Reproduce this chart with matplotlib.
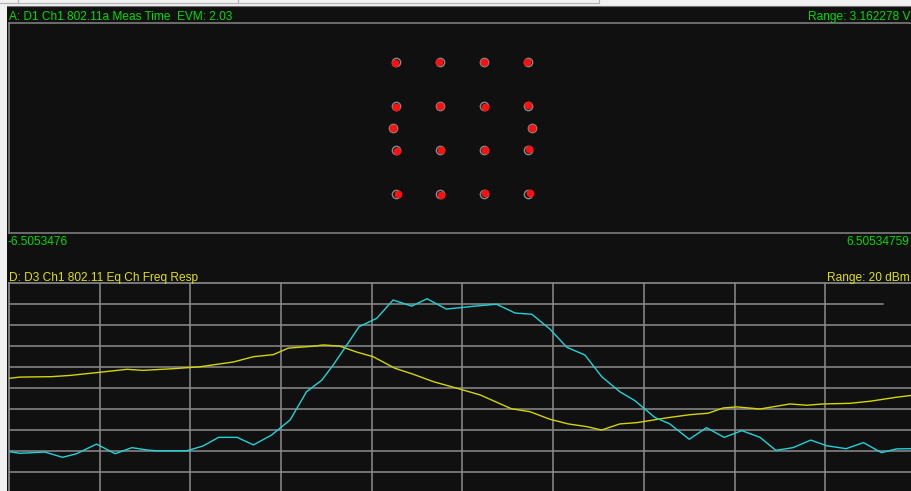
import matplotlib
matplotlib.use('Agg')
import matplotlib.pyplot as plt
from matplotlib.patches import Rectangle
from matplotlib.lines import Line2D

W, H = 912, 491

# --- constellation (normalized 16QAM, pilots at +/-1) ---
ideal_i = [-0.949, -0.316, 0.316, 0.949,
           -0.949, -0.316, 0.316, 0.949,
           -1.0, 1.0,
           -0.949, -0.316, 0.316, 0.949,
           -0.949, -0.316, 0.316, 0.949]
ideal_q = [0.949, 0.949, 0.949, 0.949,
           0.316, 0.316, 0.316, 0.316,
           0.0, 0.0,
           -0.316, -0.316, -0.316, -0.316,
           -0.949, -0.949, -0.949, -0.949]
meas_i = [-0.969, -0.341, 0.306, 0.934,
          -0.949, -0.326, 0.321, 0.949,
          -0.997, 1.003,
          -0.939, -0.306, 0.326, 0.954,
          -0.929, -0.301, 0.331, 0.969]
meas_q = [0.929, 0.949, 0.949, 0.949,
          0.301, 0.316, 0.306, 0.331,
          -0.003, 0.0,
          -0.331, -0.316, -0.311, -0.301,
          -0.949, -0.959, -0.939, -0.929]
x_range = (-6.5053476, 6.50534759)
evm = 2.03

# --- equalizer channel frequency response (MHz, dBm) ---
freq_cyan = [-10.0, -9.76, -9.21, -8.82, -8.51, -8.07, -7.66, -7.29, -6.96, -6.74,
             -6.08, -5.72, -5.38, -4.97, -4.61, -4.21, -3.80, -3.44, -3.10, -2.85,
             -2.55, -2.28, -1.89, -1.53, -1.12, -0.78, -0.36, 0.02, 0.28, 0.75,
             1.16, 1.53, 1.93, 2.30, 2.70, 3.07, 3.47, 3.80, 4.24, 4.57,
             5.00, 5.38, 5.77, 6.16, 6.56, 6.91, 7.29, 7.68, 8.03, 8.46,
             8.84, 9.24, 9.57, 9.91]
resp_cyan = [-60.3, -61.1, -60.5, -63.0, -61.3, -56.7, -61.3, -58.4, -59.5, -59.9,
             -59.9, -57.6, -53.5, -53.5, -57.1, -52.4, -45.2, -31.8, -26.2, -19.0,
             -9.5, -0.8, 3.2, 11.9, 9.0, 12.5, 7.6, 8.4, 9.0, 9.9,
             5.7, 5.1, -2.0, -10.6, -14.3, -24.6, -31.8, -36.0, -44.0, -47.1,
             -54.4, -48.9, -53.5, -50.3, -53.5, -59.7, -58.4, -54.8, -57.5, -58.9,
             -56.0, -60.8, -59.0, -58.9]
freq_yellow = [-10.0, -9.76, -9.06, -8.65, -7.99, -7.40, -7.04, -6.38, -5.79, -5.05,
               -4.61, -4.17, -3.84, -3.29, -3.07, -2.70, -2.33, -1.97, -1.49, -1.08,
               -0.64, -0.06, 0.39, 1.08, 1.49, 1.93, 2.33, 2.74, 3.07, 3.47,
               3.84, 4.57, 5.02, 5.42, 5.75, 6.05, 6.56, 7.22, 7.59, 7.96,
               8.54, 8.99, 9.57, 9.91]
resp_yellow = [-25.4, -24.8, -24.6, -24.0, -22.5, -21.1, -21.6, -20.8, -19.9, -17.6,
               -15.1, -14.1, -11.0, -10.1, -9.5, -10.1, -12.9, -15.1, -20.6, -23.5,
               -27.0, -30.5, -33.3, -39.9, -41.3, -44.9, -47.1, -48.4, -50.0, -47.1,
               -46.5, -44.0, -42.7, -42.0, -39.5, -39.0, -40.0, -37.6, -38.2, -37.6,
               -37.3, -36.3, -34.4, -33.5]
freq_grid = [-8, -6, -4, -2, 0, 2, 4, 6, 8]
level_grid = [-70, -60, -50, -40, -30, -20, -10, 0, 10]

BG = '#101010'
GRID = '#8c8c8c'
GREEN = '#00dc00'
YELLOW = '#e2e200'
FONT = dict(family=['Liberation Sans', 'DejaVu Sans'], size=8.6)


def px_box(left, top, right, bottom):
    return [left / W, 1 - bottom / H, (right - left) / W, (bottom - top) / H]


def fig_text(fig, x, y, s, color, ha='left'):
    fig.text(x / W, 1 - y / H, s, color=color, ha=ha, va='baseline', **FONT)


fig = plt.figure(figsize=(W / 100, H / 100), dpi=100, facecolor='#f0f0f0')
fig.patches.append(Rectangle((7.5 / W, 0), 1, 1 - 6 / H, transform=fig.transFigure,
                             facecolor=BG, edgecolor='none', zorder=-5))
# window chrome at the top
fig.lines.append(Line2D([0, 599 / W], [1 - 2.5 / H] * 2, transform=fig.transFigure, color='#b0b0b0', lw=0.8))
for xx in [18, 238, 599]:
    fig.lines.append(Line2D([xx / W] * 2, [1, 1 - 3 / H], transform=fig.transFigure, color='#b0b0b0', lw=0.8))
fig.lines.append(Line2D([7.5 / W, 1], [1 - 5.5 / H] * 2, transform=fig.transFigure, color='#707070', lw=0.8))

# top: constellation
ax1 = fig.add_axes(px_box(9, 23, 915.6, 233))
ax1.set_facecolor(BG)
ax1.set_xlim(*x_range)
ax1.set_ylim(-1.508, 1.508)
ax1.set_xticks([])
ax1.set_yticks([])
for sp in ax1.spines.values():
    sp.set_color('#7c7c7c')
    sp.set_linewidth(1.2)
ax1.plot(ideal_i, ideal_q, 'o', mfc='none', mec='#8a8a8a', ms=6, mew=1.0)
ax1.plot(meas_i, meas_q, 'o', color='#ff1010', mec='none', ms=5.6)

fig_text(fig, 9, 20, 'A: D1 Ch1 802.11a Meas Time  EVM: {:.2f}'.format(evm), GREEN)
fig_text(fig, 808, 20, 'Range: 3.162278 V', GREEN)
fig_text(fig, 8, 245, '{}'.format(x_range[0]), GREEN)
fig_text(fig, 909.5, 245, '{}'.format(x_range[1]), GREEN, ha='right')

# bottom: eq channel frequency response
ax2 = fig.add_axes(px_box(9, 283, 916, 493))
ax2.set_facecolor(BG)
ax2.set_xlim(-10, 10)
ax2.set_ylim(-80, 20)
ax2.set_xticks([])
ax2.set_yticks([])
for sp in ax2.spines.values():
    sp.set_color(GRID)
    sp.set_linewidth(1.2)
for f in freq_grid:
    ax2.axvline(f, color=GRID, lw=1.1, zorder=1)
for lvl in level_grid:
    ax2.axhline(lvl, color=GRID, lw=1.1, xmax=0.9636 if lvl == 10 else 1, zorder=1)
ax2.plot(freq_yellow, resp_yellow, color='#d4d400', lw=1.0, zorder=3)
ax2.plot(freq_cyan, resp_cyan, color='#1fd4d8', lw=1.0, zorder=3)

fig_text(fig, 9, 280.5, 'D: D3 Ch1 802.11 Eq Ch Freq Resp', YELLOW)
fig_text(fig, 909.5, 280.5, 'Range: 20 dBm', YELLOW, ha='right')

fig.savefig('out.png', dpi=100, facecolor=fig.get_facecolor())
